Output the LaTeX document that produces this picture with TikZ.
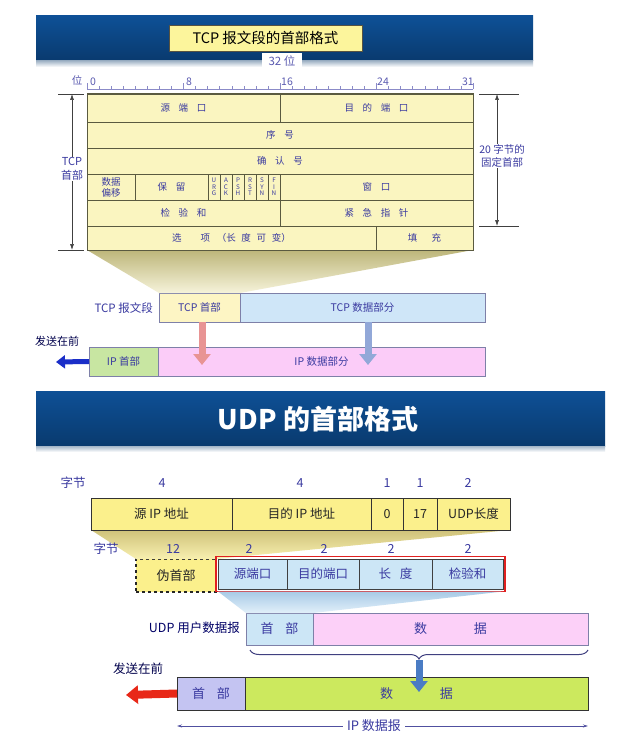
\documentclass[tikz,border=0pt]{standalone}
\usepackage{fontspec}
\setmainfont{Noto Sans CJK SC}
\usetikzlibrary{arrows.meta,decorations.pathreplacing}
\definecolor{bandA}{HTML}{0E5096}
\definecolor{bandB}{HTML}{093A6E}
\definecolor{fadeA}{HTML}{A4B6C8}
\definecolor{tblue}{HTML}{3A3AA0}
\definecolor{rblue}{HTML}{5A5AB0}
\definecolor{tfill}{HTML}{FAF5C0}
\definecolor{tline}{HTML}{5A5A40}
\definecolor{ttlfill}{HTML}{FCF59C}
\definecolor{segyel}{HTML}{FDF5C4}
\definecolor{segblu}{HTML}{CFE6F8}
\definecolor{segline}{HTML}{7E80A8}
\definecolor{ipgreen}{HTML}{C8E6A2}
\definecolor{ippink}{HTML}{FBCCF8}
\definecolor{arrblue}{HTML}{1A2EC8}
\definecolor{arrpink}{HTML}{E89494}
\definecolor{arrgray}{HTML}{92A8D8}
\definecolor{shadA}{HTML}{BDB67A}
\definecolor{shadB}{HTML}{F6F3DA}
\definecolor{pyel}{HTML}{FBF08C}
\definecolor{ushA}{HTML}{CFC27A}
\definecolor{ushB}{HTML}{F8F0B0}
\definecolor{ublue}{HTML}{CCE6F6}
\definecolor{ubshA}{HTML}{A8CAE6}
\definecolor{ubshB}{HTML}{E2F0FA}
\definecolor{upink}{HTML}{FCD0F8}
\definecolor{lav}{HTML}{C4C4F2}
\definecolor{lime}{HTML}{CCE95E}
\definecolor{udpred}{HTML}{E02020}
\definecolor{bigred}{HTML}{E82818}
\definecolor{downblue}{HTML}{4A7CC4}
\definecolor{dimblue}{HTML}{5050A0}
\newcommand\myfs[1]{\fontsize{#1}{#1}\selectfont}
\newcommand\gp{\hspace{0.9em}}
\newcommand\bx[7][]{\node[box,#1,minimum width={#5pt-#3pt},minimum height={#6pt-#4pt}] (#2) at (#3,#4) {#7};}
\begin{document}
\begin{tikzpicture}[x=1pt,y=-1pt,
  box/.style={rectangle,anchor=north west,inner sep=0pt,outer sep=0pt,draw},
  tcell/.style={fill=tfill,draw=tline,line width=0.7pt,text=tblue,font=\myfs{9.5}},
  flag/.style={fill=tfill,draw=tline,line width=0.7pt,text=tblue,font=\fontsize{6.3}{6.6}\selectfont,align=center},
  dimline/.style={draw=black!75,line width=0.6pt},
  seg/.style={draw=segline,line width=0.8pt,text=tblue,font=\myfs{10.5}},
  pcell/.style={fill=pyel,draw=black!80,line width=0.8pt,text=black!85,font=\myfs{12.5}},
  ucell/.style={fill=ublue,draw=black!75,line width=0.8pt,text=tblue,font=\myfs{12.5}},
  dgram/.style={draw=segline,line width=0.8pt,text=tblue,font=\myfs{13}},
  ipbox/.style={draw=black!80,line width=1pt,text=tblue,font=\myfs{13}},
  lbl/.style={text=tblue,inner sep=0pt}]
\useasboundingbox (0,0) rectangle (617,746);
\fill[white] (0,0) rectangle (617,746);

% ===== TCP header band =====
\shade[top color=bandA,bottom color=bandB] (36,16) rectangle (533,61);
\shade[top color=fadeA,bottom color=white] (36,61) rectangle (533,67);
\node[draw=black!60!yellow!60!black,fill=ttlfill,font=\myfs{14.5},minimum width=193pt,minimum height=26pt,inner sep=0pt] (tcptitle) at (265.5,38) {TCP 报文段的首部格式};
\node[fill=white,text=rblue,font=\myfs{11.5},minimum width=40pt,minimum height=16pt,inner sep=0pt] (bits32) at (282,61) {32 位};

% ruler
\coordinate (r0) at (87,89);
\coordinate (r32) at (473,89);
\draw[rblue!70,line width=0.6pt] (r0) -- (r32);
\foreach \i in {0,...,32} {\draw[rblue!70,line width=0.5pt] (87+\i*12.0625,89) -- ++(0,-3);}
\foreach \i in {0,8,16,24,32} {\draw[rblue!70,line width=0.6pt] (87+\i*12.0625,89) -- ++(0,-6);}
\node[lbl,text=rblue,font=\myfs{10.5}] (wei) at (77,80) {位};
\node[lbl,text=rblue,font=\myfs{10.5},anchor=south west] (n0) at (90,86) {0};
\node[lbl,text=rblue,font=\myfs{10.5},anchor=south west] (n8) at (186,86) {8};
\node[lbl,text=rblue,font=\myfs{10.5},anchor=south west] (n16) at (281,86) {16};
\node[lbl,text=rblue,font=\myfs{10.5},anchor=south west] (n24) at (377,86) {24};
\node[lbl,text=rblue,font=\myfs{10.5},anchor=south east] (n31) at (474,86) {31};

% table
\bx[tcell]{c11}{87}{94}{280}{122}{源\gp 端\gp 口}
\bx[tcell]{c12}{280}{94}{473}{122}{目\gp 的\gp 端\gp 口}
\bx[tcell]{c2}{87}{122}{473}{148}{序\gp 号}
\bx[tcell]{c3}{87}{148}{473}{174}{确\gp 认\gp 号}
\bx[tcell,align=center,font=\fontsize{9.5}{11}\selectfont]{c41}{87}{174}{135}{200}{数据\\偏移}
\bx[tcell]{c42}{135}{174}{208}{200}{保\gp 留}
\bx[flag]{f1}{208}{174}{220}{200}{U\\R\\G}
\bx[flag]{f2}{220}{174}{232}{200}{A\\C\\K}
\bx[flag]{f3}{232}{174}{244}{200}{P\\S\\H}
\bx[flag]{f4}{244}{174}{256}{200}{R\\S\\T}
\bx[flag]{f5}{256}{174}{268}{200}{S\\Y\\N}
\bx[flag]{f6}{268}{174}{280}{200}{F\\I\\N}
\bx[tcell]{c44}{280}{174}{473}{200}{窗\gp 口}
\bx[tcell]{c51}{87}{200}{280}{226}{检\gp 验\gp 和}
\bx[tcell]{c52}{280}{200}{473}{226}{紧\gp 急\gp 指\gp 针}
\bx[tcell]{c61}{87}{226}{376}{250}{选\hspace{2em}项\hspace{0.7em}（长\hspace{0.6em}度\hspace{0.6em}可\hspace{0.6em}变）}
\bx[tcell]{c62}{376}{226}{473}{250}{填\hspace{1.5em}充}
\draw[tline,line width=1pt] (c11.north west) rectangle (c62.south east);

% TCP header dimension (left)
\coordinate (lt1) at (58,94); \coordinate (lt2) at (84,94);
\coordinate (lb1) at (58,250); \coordinate (lb2) at (84,250);
\coordinate (la1) at (72,94); \coordinate (la2) at (72,250);
\draw[dimline] (lt1) -- (lt2);
\draw[dimline] (lb1) -- (lb2);
\draw[dimline,{Latex[length=6pt,width=4pt]}-{Latex[length=6pt,width=4pt]}] (la1) -- (la2);
\node[fill=white,text=tblue,font=\fontsize{11}{13.5}\selectfont,align=center,inner sep=1pt] (tcphdr) at (72,169) {TCP\\首部};

% 20 bytes dimension (right)
\coordinate (rt1) at (479,94); \coordinate (rt2) at (519,94);
\coordinate (rb1) at (479,226); \coordinate (rb2) at (519,226);
\coordinate (ra1) at (497,94); \coordinate (ra2) at (497,226);
\draw[dimline] (rt1) -- (rt2);
\draw[dimline] (rb1) -- (rb2);
\draw[dimline,{Latex[length=6pt,width=4pt]}-{Latex[length=6pt,width=4pt]}] (ra1) -- (ra2);
\node[fill=white,text=tblue,font=\fontsize{10.5}{13}\selectfont,align=center,inner sep=1pt] (fixed) at (502,156) {20 字节的\\固定首部};

% TCP segment
\bx[seg,fill=segyel]{tcph}{159}{293}{240}{322}{TCP 首部}
\bx[seg,fill=segblu]{tcpd}{240}{293}{485}{322}{TCP 数据部分}
\shade[top color=shadA,bottom color=shadB] (c61.south west) -- (c62.south east) -- (tcph.north east) -- (tcph.north west) -- cycle;
\draw[tline,line width=1pt] (c61.south west) -- (c62.south east);
\node[lbl,anchor=east,font=\myfs{11.5}] (tcpseg) at (153,308) {TCP 报文段};

% IP datagram (TCP)
\bx[seg,fill=ipgreen]{iph}{89}{347}{158}{376}{IP 首部}
\bx[seg,fill=ippink]{ipd}{158}{347}{485}{376}{IP 数据部分}
\node[lbl,font=\myfs{11},text=black!70!blue] (send1) at (57,341) {发送在前};
\coordinate (send1tip) at (56,362);
\draw[arrblue,line width=5pt,-{Triangle[length=9pt,width=13pt]}] (iph.west) -- (send1tip);
\coordinate (ta1) at (202,322); \coordinate (ta2) at (202,365);
\coordinate (tb1) at (368,322); \coordinate (tb2) at (368,365);
\draw[arrpink,line width=7pt,-{Triangle[length=11pt,width=17pt]}] (ta1) -- (ta2);
\draw[arrgray,line width=7pt,-{Triangle[length=11pt,width=17pt]}] (tb1) -- (tb2);

% ===== UDP header band =====
\shade[top color=bandA,bottom color=bandB] (36,391) rectangle (605,446);
\shade[top color=fadeA,bottom color=white] (36,446) rectangle (605,452);
\node[text=white,font=\bfseries\myfs{27}] (udptitle) at (318,419) {UDP 的首部格式};

% row 1 bytes
\node[lbl,font=\myfs{12.5}] (zj1) at (73,483) {字节};
\node[lbl,font=\myfs{12.5}] (b1) at (162,483) {4};
\node[lbl,font=\myfs{12.5}] (b2) at (300,483) {4};
\node[lbl,font=\myfs{12.5}] (b3) at (387,483) {1};
\node[lbl,font=\myfs{12.5}] (b4) at (420,483) {1};
\node[lbl,font=\myfs{12.5}] (b5) at (468,483) {2};

% pseudo header
\bx[pcell]{p1}{91}{498}{232}{530}{源 IP 地址}
\bx[pcell]{p2}{232}{498}{371}{530}{目的 IP 地址}
\bx[pcell]{p3}{371}{498}{403}{530}{0}
\bx[pcell]{p4}{403}{498}{437}{530}{17}
\bx[pcell]{p5}{437}{498}{510}{530}{UDP长度}

\bx[fill=pyel,draw=black!85,dashed,line width=1.3pt,text=black!85,font=\myfs{13}]{fake}{136}{559}{216}{592}{伪首部}
\shade[top color=ushA,bottom color=ushB] (p1.south west) -- (p5.south east) -- (fake.north east) -- (fake.north west) -- cycle;
\draw[black!80,line width=0.8pt] (p1.south west) -- (p5.south east);

% row 2
\node[lbl,font=\myfs{12.5}] (zj2) at (106,549) {字节};
\node[lbl,font=\myfs{12.5}] (d1) at (173,549) {12};
\node[lbl,font=\myfs{12.5}] (d2) at (249,549) {2};
\node[lbl,font=\myfs{12.5}] (d3) at (324,549) {2};
\node[lbl,font=\myfs{12.5}] (d4) at (391,549) {2};
\node[lbl,font=\myfs{12.5}] (d5) at (468,549) {2};

\bx[ucell]{u1}{218}{559}{287}{589}{源端口}
\bx[ucell]{u2}{287}{559}{359}{589}{目的端口}
\bx[ucell]{u3}{359}{559}{432}{589}{长\hspace{0.7em}度}
\bx[ucell]{u4}{432}{559}{503}{589}{检验和}
\draw[udpred,line width=1.3pt] ([shift={(-2pt,2.5pt)}]u1.north west) rectangle ([shift={(2pt,-2.5pt)}]u4.south east);

% UDP datagram
\bx[dgram,fill=ublue]{uh}{246}{613}{313}{645}{首\hspace{0.9em}部}
\bx[dgram,fill=upink]{ud}{313}{613}{588}{645}{数\hspace{3.6em}据}
\shade[top color=ubshA,bottom color=ubshB] ([yshift=-2.5pt]u1.south west) -- ([yshift=-2.5pt]u4.south east) -- (uh.north east) -- (uh.north west) -- cycle;
\node[lbl,anchor=east,font=\myfs{12.5},text=black!60!blue] (udpdg) at (240,628) {UDP 用户数据报};

% brace
\coordinate (brL) at (250,650);
\coordinate (brR) at (588,650);
\draw[dimblue!80!black,line width=1pt,decorate,decoration={brace,amplitude=9pt,mirror}] (brL) -- (brR);
\coordinate (bracetip) at (419,660);

% IP datagram (UDP)
\bx[ipbox,fill=lav]{ih}{177}{677}{245}{710}{首\hspace{0.9em}部}
\bx[ipbox,fill=lime]{idd}{245}{677}{588}{710}{数\hspace{3.6em}据}
\coordinate (downtip) at (419,692);
\draw[downblue,line width=7pt,-{Triangle[length=11pt,width=17pt]}] (bracetip) -- (downtip);
\node[lbl,font=\myfs{12.5},text=black!70!blue] (send2) at (138,669) {发送在前};
\coordinate (send2tip) at (126,695);
\draw[bigred,line width=8pt,-{Triangle[length=12pt,width=18pt]}] (ih.west) -- (send2tip);

% IP datagram dimension
\coordinate (dimL) at (177,726);
\coordinate (dimR) at (588,726);
\draw[dimblue,line width=0.7pt,{Stealth[length=5pt,width=3pt]}-{Stealth[length=5pt,width=3pt]}] (dimL) -- (dimR);
\node[fill=white,text=tblue,font=\myfs{13},inner xsep=4pt,inner ysep=1pt] (ipdg) at (374,726) {IP 数据报};
\end{tikzpicture}
\end{document}
